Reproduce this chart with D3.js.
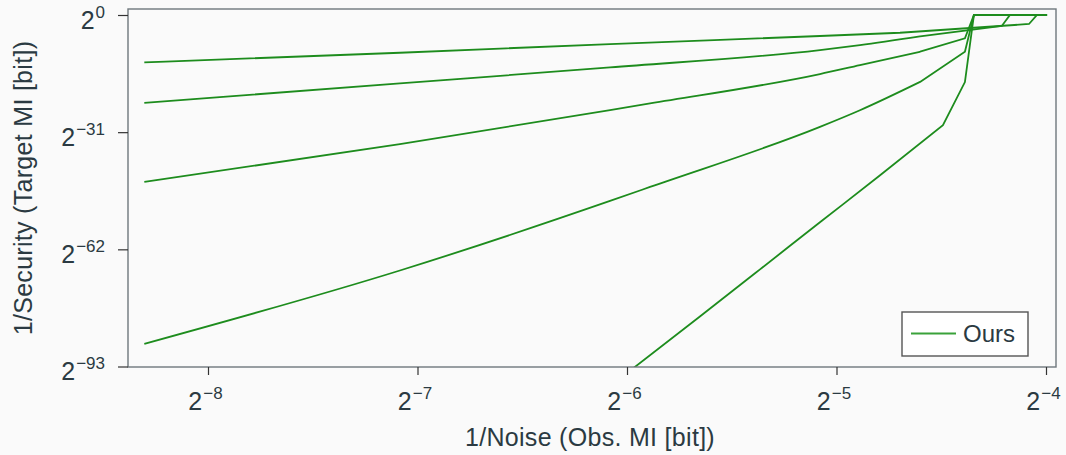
<!DOCTYPE html>
<html>
<head>
<meta charset="utf-8">
<script src="https://cdn.jsdelivr.net/npm/d3@7"></script>
<style>
  html, body { margin: 0; padding: 0; background: #fafafa; }
  svg { display: block; }
  text { font-family: "Liberation Sans", Arial, sans-serif; fill: #2b3a42; }
</style>
</head>
<body>
<svg id="chart" width="1066" height="455"></svg>
<script>
// ---- data (log2 exponents) ----
const legendLabel = "Ours";
const xTickExps = [-8, -7, -6, -5, -4];
const yTickExps = [0, -31, -62, -93];
const xLabel = "1/Noise (Obs. MI [bit])";
const yLabel = "1/Security (Target MI [bit])";

const noise1 = [-8.304, -7.084, -6.081, -5.079, -4.697, -4.081, -4.043, -3.995];
const target1 = [-12.53, -9.99, -7.68, -5.56, -4.70, -2.38, 0, 0];

const noise2 = [-8.304, -7.084, -6.081, -5.079, -4.888, -4.601, -4.211, -4.172, -3.995];
const target2 = [-23.24, -18.10, -13.86, -9.27, -7.96, -5.66, -2.91, 0, 0];

const noise3 = [-8.304, -7.084, -6.081, -5.890, -5.079, -4.888, -4.601, -4.387, -4.344, -3.995];
const target3 = [-44.17, -34.18, -25.17, -23.40, -15.63, -13.25, -9.72, -6.17, 0, 0];

const noise4 = [-8.304, -7.084, -6.081, -5.890, -5.079, -4.888, -4.601, -4.387, -4.344, -3.995];
const target4 = [-87.0, -67.6, -49.2, -45.5, -29.6, -25.2, -17.7, -9.72, 0, 0];

const noise5 = [-6.129, -5.652, -5.365, -5.079, -4.792, -4.492, -4.387, -4.344, -3.995];
const target5 = [-100.3, -79.76, -67.3, -54.85, -42.4, -29.15, -17.75, 0, 0];

// index of the last smoothly-joined point of each curve (straight segments after it)
const smoothEnd = [4, 5, 6, 6, 5];

const seriesX = [noise1, noise2, noise3, noise4, noise5];
const seriesY = [target1, target2, target3, target4, target5];

// ---- layout ----
const svg = d3.select("#chart");
const frame = { left: 128, right: 1056, top: 9, bottom: 367 };
const x = d3.scaleLinear().domain([-8, -4]).range([208, 1046]);
const y = d3.scaleLinear().domain([-93, 0]).range([366.5, 15]);
const green = "#1d8c1d";
const axisColor = "#6e777c";

svg.append("rect").attr("width", 1066).attr("height", 455).attr("fill", "#fafafa");

svg.append("defs").append("clipPath").attr("id", "clip")
  .append("rect")
  .attr("x", frame.left).attr("y", frame.top)
  .attr("width", frame.right - frame.left).attr("height", frame.bottom - frame.top);

// lines
const smooth = d3.line().x(d => x(d[0])).y(d => y(d[1])).curve(d3.curveMonotoneX);
const straight = d3.line().x(d => x(d[0])).y(d => y(d[1]));
const g = svg.append("g").attr("clip-path", "url(#clip)");
seriesX.forEach((xs, i) => {
  const pts = xs.map((v, j) => [v, seriesY[i][j]]);
  const k = smoothEnd[i];
  const d = smooth(pts.slice(0, k + 1)) + straight(pts.slice(k)).replace(/^M/, "L");
  g.append("path")
    .attr("d", d)
    .attr("fill", "none")
    .attr("stroke", green)
    .attr("stroke-width", 1.8)
    .attr("stroke-linejoin", "miter");
});

// frame
svg.append("rect")
  .attr("x", frame.left).attr("y", frame.top)
  .attr("width", frame.right - frame.left).attr("height", frame.bottom - frame.top)
  .attr("fill", "none").attr("stroke", axisColor).attr("stroke-width", 1.4);

// x axis
const xAxis = svg.append("g").attr("transform", `translate(0,${frame.bottom})`)
  .call(d3.axisBottom(x).tickValues(xTickExps).tickSize(8).tickFormat(""));
xAxis.select(".domain").remove();
xAxis.selectAll(".tick line").attr("stroke", "#333").attr("stroke-width", 1.2);
xAxis.selectAll(".tick").each(function(d) {
  const t = d3.select(this).append("text")
    .attr("text-anchor", "middle").attr("x", -3).attr("y", 43).style("font-size", "25px");
  t.append("tspan").text("2");
  t.append("tspan").attr("dy", -11).attr("dx", 1).style("font-size", "17px").text("\u2212" + Math.abs(d));
});

// y axis
const yAxis = svg.append("g").attr("transform", `translate(${frame.left},0)`)
  .call(d3.axisLeft(y).tickValues(yTickExps).tickSize(10).tickFormat(""));
yAxis.select(".domain").remove();
yAxis.selectAll(".tick line").attr("stroke", "#333").attr("stroke-width", 1.2);
yAxis.selectAll(".tick").each(function(d) {
  const t = d3.select(this).append("text")
    .attr("text-anchor", "end").attr("x", -23).attr("y", 13).style("font-size", "25px");
  t.append("tspan").text("2");
  t.append("tspan").attr("dy", -11).attr("dx", 1).style("font-size", "17px")
    .text(d === 0 ? "0" : "\u2212" + Math.abs(d));
});

// axis labels
svg.append("text").attr("x", (frame.left + frame.right) / 2 - 2).attr("y", 446)
  .attr("text-anchor", "middle").style("font-size", "25px").style("letter-spacing", "0.3px").text(xLabel);
svg.append("text")
  .attr("transform", `translate(32,${(frame.top + frame.bottom) / 2}) rotate(-90)`)
  .attr("text-anchor", "middle").style("font-size", "25px").style("letter-spacing", "0.3px").text(yLabel);

// legend
const lg = svg.append("g");
lg.append("rect").attr("x", 902).attr("y", 312).attr("width", 126).attr("height", 44)
  .attr("fill", "#ffffff").attr("stroke", "#555").attr("stroke-width", 1.4);
lg.append("line").attr("x1", 911).attr("x2", 956).attr("y1", 333.5).attr("y2", 333.5)
  .attr("stroke", "#3aa23a").attr("stroke-width", 1.8);
lg.append("text").attr("x", 963).attr("y", 342).style("font-size", "24px").text(legendLabel);
</script>
</body>
</html>
